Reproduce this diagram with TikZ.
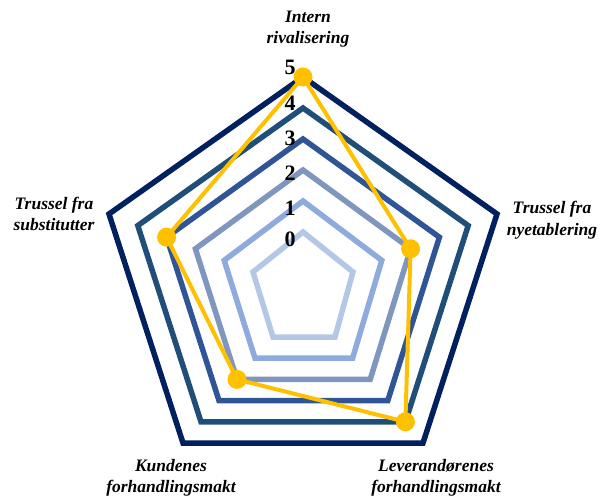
\documentclass[tikz,border=0pt]{standalone}
\usepackage{fontspec}
\setmainfont{Liberation Serif}
\usetikzlibrary{calc}

% ring colours, innermost (0) to outermost (5)
\definecolor{lvl0}{HTML}{B4C7E7}
\definecolor{lvl1}{HTML}{8FAADC}
\definecolor{lvl2}{HTML}{7F96BE}
\definecolor{lvl3}{HTML}{2F5597}
\definecolor{lvl4}{HTML}{1F4E79}
\definecolor{lvl5}{HTML}{002060}
\definecolor{series}{HTML}{FFC000}

\begin{document}
\begin{tikzpicture}[x=1pt, y=-1pt,
  ring/.style={line width=5.5pt, line join=miter},
  dataline/.style={draw=series, line width=4pt, line join=round},
  dot/.style={circle, fill=series, inner sep=0pt, minimum size=19pt},
  tick/.style={font=\fontsize{22}{24}\selectfont\bfseries, inner sep=0pt},
  axislabel/.style={font=\fontsize{17.5}{21.5}\selectfont\bfseries\itshape,
                    align=center, inner sep=0pt}]
  \useasboundingbox (0,0) rectangle (600,497);

  % vertices of the innermost (0) and outermost (5) rings
  \coordinate (T0)  at (303,232);
  \coordinate (R0)  at (353,272);
  \coordinate (BR0) at (335,337);
  \coordinate (BL0) at (273,337);
  \coordinate (L0)  at (253,272);
  \coordinate (T5)  at (303,77);
  \coordinate (R5)  at (497,214);
  \coordinate (BR5) at (423,443);
  \coordinate (BL5) at (183,443);
  \coordinate (L5)  at (109,214);

  % grid rings, one per scale step
  \foreach \k in {0,...,5}{
    \draw[ring, draw=lvl\k]
      ($(T0)!\k/5!(T5)$) -- ($(R0)!\k/5!(R5)$) -- ($(BR0)!\k/5!(BR5)$)
      -- ($(BL0)!\k/5!(BL5)$) -- ($(L0)!\k/5!(L5)$) -- cycle;
  }

  % scale values
  \node[tick] (t5) at (290,67)  {5};
  \node[tick] (t4) at (290,103) {4};
  \node[tick] (t3) at (290,138) {3};
  \node[tick] (t2) at (290,173) {2};
  \node[tick] (t1) at (290,208) {1};
  \node[tick] (t0) at (290,239) {0};

  % data points: 5, 2, 4, 2, 3
  \node[dot] (dT)  at ($(T0)!1!(T5)$)   {};
  \node[dot] (dR)  at ($(R0)!0.4!(R5)$) {};
  \node[dot] (dBR) at ($(BR0)!0.8!(BR5)$) {};
  \node[dot] (dBL) at ($(BL0)!0.4!(BL5)$) {};
  \node[dot] (dL)  at ($(L0)!0.6!(L5)$) {};
  \draw[dataline] (dT.center) -- (dR.center) -- (dBR.center)
    -- (dBL.center) -- (dL.center) -- cycle;

  % axis titles
  \node[axislabel] (aT)  at (308,29)  {Intern\\rivalisering};
  \node[axislabel] (aR)  at (552,220) {Trussel fra\\nyetablering};
  \node[axislabel] (aBR) at (436,478) {Leverandørenes\\forhandlingsmakt};
  \node[axislabel] (aBL) at (171,478) {Kundenes\\forhandlingsmakt};
  \node[axislabel] (aL)  at (54,214)  {Trussel fra\\substitutter};
\end{tikzpicture}
\end{document}
